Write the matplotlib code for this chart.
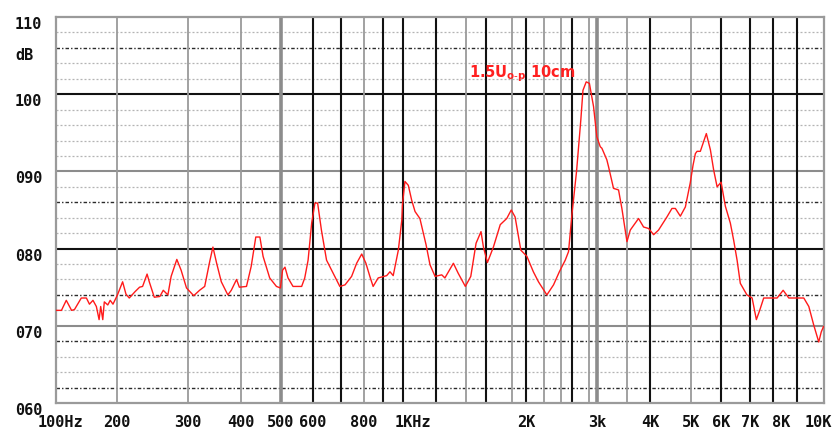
import numpy as np
import matplotlib
matplotlib.use("Agg")
import matplotlib.pyplot as plt
import matplotlib.transforms as mtransforms

# response curve (Hz, dB)
freq_hz = [100, 107, 113, 120, 124, 134, 142, 147, 153, 159,
           164, 167, 171, 174, 181, 186, 192, 201, 207, 211,
           215, 222, 228, 232, 238, 241, 248, 256, 261, 268,
           273, 282, 289, 298, 310, 320, 329, 338, 344, 351,
           360, 373, 380, 391, 397, 413, 424, 435, 445, 453,
           470, 488, 499, 505, 512, 521, 536, 563, 573, 584,
           596, 607, 616, 629, 647, 671, 696, 717, 745, 767,
           790, 810, 830, 847, 874, 918, 934, 950, 976, 994,
           997, 1011, 1030, 1049, 1069, 1098, 1136, 1161, 1194, 1236,
           1256, 1312, 1345, 1395, 1445, 1497, 1547, 1572, 1610, 1654,
           1706, 1757, 1793, 1841, 1922, 2008, 2078, 2135, 2231, 2308,
           2378, 2472, 2532, 2595, 2623, 2650, 2700, 2725, 2764, 2805,
           2907, 2990, 3047, 3073, 3152, 3180, 3262, 3347, 3405, 3495,
           3562, 3737, 3847, 3963, 4073, 4184, 4379, 4500, 4585, 4710,
           4841, 4970, 5052, 5124, 5177, 5281, 5477, 5613, 5725, 5847,
           5990, 6128, 6293, 6404, 6522, 6635, 6873, 7070, 7246, 7387,
           7561, 8146, 8390, 8626, 9234, 9423, 9612, 9810, 9909, 10000]
level_db = [72.0, 72.0, 73.3, 72.0, 72.1, 73.6, 73.6, 72.8, 73.3, 72.5,
            70.8, 72.5, 70.8, 73.1, 72.7, 73.3, 72.8, 74.0, 75.7, 74.1,
            73.6, 74.4, 75.0, 75.1, 76.7, 75.7, 73.7, 73.8, 74.6, 74.0,
            76.4, 78.6, 77.2, 74.9, 73.9, 74.6, 75.1, 78.3, 80.2, 78.1,
            75.7, 74.0, 74.6, 76.0, 75.0, 75.1, 77.7, 81.5, 81.5, 79.0,
            76.2, 75.1, 74.9, 77.2, 77.6, 76.2, 75.1, 75.1, 76.2, 78.5,
            83.3, 85.9, 85.9, 82.4, 78.5, 76.8, 75.1, 75.3, 76.4, 78.1,
            79.3, 78.1, 76.4, 75.1, 76.2, 76.5, 77.0, 76.5, 79.8, 83.7,
            85.6, 88.7, 88.2, 86.3, 84.8, 83.9, 80.5, 77.9, 76.4, 76.6,
            76.2, 78.1, 76.8, 75.1, 76.4, 80.7, 82.2, 80.2, 78.2, 80.2,
            83.1, 83.9, 85.0, 84.1, 79.8, 79.0, 77.0, 75.7, 74.0, 75.3,
            77.0, 78.5, 79.6, 84.4, 87.2, 90.0, 96.7, 100.5, 101.6, 101.4,
            98.4, 94.5, 93.2, 93.0, 91.5, 90.6, 87.8, 87.6, 85.2, 80.9,
            82.4, 83.9, 82.8, 82.6, 81.8, 82.4, 84.1, 85.2, 85.2, 84.2,
            85.4, 88.5, 90.8, 92.3, 92.6, 92.6, 94.9, 92.8, 90.2, 88.0,
            88.6, 85.5, 83.3, 81.1, 78.5, 75.5, 74.0, 73.6, 70.8, 72.0,
            73.6, 73.6, 74.6, 73.6, 73.6, 72.5, 70.1, 67.9, 69.2, 69.9]

# the chart paper: vertical rules and where each one sits across the 768 px grid
grid_freq = [100, 200, 300, 400, 500, 600, 700, 800, 900, 1000,
             1200, 1400, 1600, 1800, 2000, 2200, 2400, 2600, 2800, 3000,
             3500, 4000, 5000, 6000, 7000, 8000, 9000, 10000]
paper_pos = [0, 61, 132, 185, 225, 257, 285, 308, 327, 347,
             380, 410, 430, 456, 470, 488, 505, 516, 533, 541,
             571, 594, 635, 665, 694, 717, 741, 767]
rule_kind = ['g', 'g', 'g', 'g', 'G', 'k', 'k', 'g', 'k', 'k',
             'k', 'g', 'k', 'g', 'k', 'g', 'g', 'k', 'g', 'G',
             'g', 'k', 'g', 'k', 'k', 'k', 'k', 'g']

x_labels = {100: '100Hz', 200: '200', 300: '300', 400: '400', 500: '500',
            600: '600', 800: '800', 1000: '1KHz', 2000: '2K', 3000: '3k',
            4000: '4K', 5000: '5K', 6000: '6K', 7000: '7K', 8000: '8K',
            10000: '10K'}
label_nudge = {100: 5, 1000: 10, 8000: 8, 10000: -5}

y_labels = {110: '110', 106: 'dB', 100: '100', 90: '090', 80: '080',
            70: '070', 60: '060'}
dark_dotted = [106, 86, 74, 68, 62]
black_major = [100, 80]

lf = np.log10(grid_freq)


def fwd(f):
    f = np.asarray(f, dtype=float)
    return np.interp(np.log10(np.clip(f, 1e-3, None)), lf, paper_pos)


def inv(p):
    return 10 ** np.interp(np.asarray(p, dtype=float), paper_pos, lf)


fig = plt.figure(figsize=(8.34, 4.32), dpi=100)
W, H = 834.0, 432.0
ax = fig.add_axes([55.5 / W, (H - 403) / H, 768 / W, 386 / H])
ax.set_xscale('function', functions=(fwd, inv))
ax.set_xlim(100, 10000)
ax.set_ylim(60, 110)
ax.set_xticks([])
ax.set_yticks([])
for s in ax.spines.values():
    s.set_color('#9a9a9a')
    s.set_linewidth(1.6)

# horizontal rules
for v in range(62, 110, 2):
    if v % 10 == 0:
        c = '#111111' if v in black_major else '#8c8c8c'
        ax.axhline(v, color=c, lw=1.5, zorder=1)
    elif v in dark_dotted:
        ax.axhline(v, color='#2a2a2a', lw=1.0, ls=(0, (2.5, 1.5, 1.0, 1.5)), zorder=1)
    else:
        ax.axhline(v, color='#b4b4b4', lw=0.9, ls=(0, (1.6, 1.6)), zorder=1)

# vertical rules
for f, k in zip(grid_freq[1:-1], rule_kind[1:-1]):
    if k == 'k':
        ax.axvline(f, color='#111111', lw=1.5, zorder=2)
    elif k == 'G':
        ax.axvline(f, color='#8c8c8c', lw=2.6, zorder=2)
    else:
        ax.axvline(f, color='#9a9a9a', lw=1.3, zorder=2)

ax.plot(freq_hz, level_db, color='#ff1a1a', lw=1.0, zorder=3)

ax.text(0.539, 0.852, r'1.5U$_{\mathbf{o\text{-}p}}$ 10cm', transform=ax.transAxes,
        color='#ff2020', fontsize=10.5, fontweight='bold', ha='left', va='center')

lab_font = dict(family='DejaVu Sans Mono', fontsize=11, fontweight='bold', color='#111111')

ytr = mtransforms.blended_transform_factory(fig.transFigure, ax.transData)
for v, t in y_labels.items():
    ax.text(15 / W, v, t, transform=ytr, ha='left', va='top', clip_on=False, **lab_font)

for f, t in x_labels.items():
    tr = mtransforms.offset_copy(ax.get_xaxis_transform(), fig=fig,
                                 x=label_nudge.get(f, 0), y=-12, units='dots')
    ax.text(f, 0, t, transform=tr, ha='center', va='top', clip_on=False, **lab_font)

fig.savefig('out.png', dpi=100, facecolor='white')
